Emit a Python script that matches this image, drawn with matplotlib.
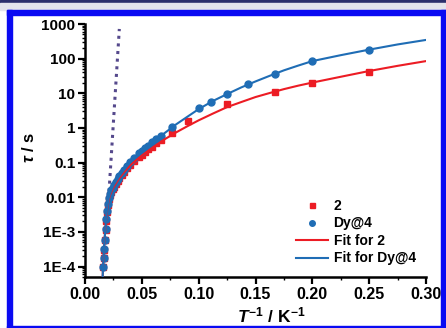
import matplotlib
matplotlib.use("Agg")
from matplotlib import pyplot as plt
from matplotlib.patches import Rectangle
from matplotlib.ticker import FixedLocator, FixedFormatter, MultipleLocator, LogLocator, NullFormatter

plt.rcParams['font.family'] = ['Liberation Sans', 'DejaVu Sans']
plt.rcParams['font.weight'] = 'bold'
plt.rcParams['mathtext.fontset'] = 'custom'
plt.rcParams['mathtext.it'] = 'Liberation Sans:italic:bold'
plt.rcParams['mathtext.rm'] = 'Liberation Sans:bold'
plt.rcParams['mathtext.bf'] = 'Liberation Sans:bold'

# data: inverse temperature (1/K) and relaxation time (s)
x_2 = [0.0159, 0.0164, 0.0169, 0.0175, 0.0182, 0.0189, 0.0196, 0.0204, 0.0213, 0.0222,
       0.0233, 0.0244, 0.0256, 0.0270, 0.0286, 0.0303, 0.0323, 0.0345, 0.0370, 0.0400,
       0.0435, 0.0476, 0.0500, 0.0526, 0.0556, 0.0588, 0.0625, 0.0667, 0.0769, 0.0909,
       0.125, 0.167, 0.2, 0.25]
tau_2 = [1.0e-4, 1.8e-4, 3.1e-4, 5.8e-4, 1.1e-3, 2.1e-3, 3.7e-3, 6.0e-3, 8.8e-3, 1.15e-2,
         1.45e-2, 1.7e-2, 2.0e-2, 2.4e-2, 2.9e-2, 3.5e-2, 4.3e-2, 5.4e-2, 6.8e-2, 8.6e-2,
         0.11, 0.15, 0.17, 0.20, 0.24, 0.29, 0.36, 0.46, 0.72, 1.6,
         4.8, 11, 20, 41]

x_dy = [0.0159, 0.0164, 0.0169, 0.0175, 0.0182, 0.0189, 0.0196, 0.0204, 0.0213, 0.0222,
        0.0233, 0.0244, 0.0256, 0.0270, 0.0286, 0.0303, 0.0323, 0.0345, 0.0370, 0.0400,
        0.0435, 0.0476, 0.0500, 0.0526, 0.0556, 0.0588, 0.0625, 0.0667, 0.0769, 0.1,
        0.111, 0.125, 0.143, 0.167, 0.2, 0.25]
tau_dy = [1.0e-4, 1.8e-4, 3.2e-4, 6.0e-4, 1.2e-3, 2.3e-3, 4.0e-3, 6.5e-3, 9.5e-3, 1.25e-2,
          1.6e-2, 1.9e-2, 2.2e-2, 2.7e-2, 3.3e-2, 4.0e-2, 5.0e-2, 6.3e-2, 8.0e-2, 0.105,
          0.14, 0.19, 0.22, 0.26, 0.31, 0.39, 0.48, 0.60, 1.07, 3.8,
          5.6, 9.6, 18.6, 36, 86, 178]

# fit curves
fit_x = [0.0154, 0.0159, 0.0165, 0.017, 0.0178, 0.0185, 0.0192, 0.02, 0.021, 0.022,
         0.0235, 0.025, 0.0275, 0.03, 0.035, 0.04, 0.045, 0.05, 0.06, 0.07,
         0.08, 0.09, 0.1, 0.1125, 0.125, 0.1375, 0.15, 0.1625, 0.175, 0.1875,
         0.2, 0.225, 0.25, 0.275, 0.3]
fit_2 = [4e-5, 1e-4, 2.4e-4, 4.7e-4, 1.05e-3, 2.0e-3, 3.5e-3, 5.8e-3, 8.7e-3, 0.0115,
         0.015, 0.019, 0.026, 0.035, 0.056, 0.085, 0.117, 0.16, 0.28, 0.47,
         0.74, 1.12, 1.66, 2.6, 4.0, 5.6, 7.8, 10.2, 13.2, 16.6,
         20.4, 30, 44, 62, 85]
fit_dy = [4e-5, 1e-4, 2.5e-4, 5e-4, 1.1e-3, 2.2e-3, 4e-3, 6.6e-3, 0.010, 0.013,
          0.017, 0.022, 0.030, 0.040, 0.066, 0.105, 0.15, 0.21, 0.40, 0.71,
          1.26, 2.1, 3.5, 6.0, 9.5, 14.8, 22, 32, 46, 63,
          85, 126, 182, 257, 347]

# Arrhenius extrapolation (dotted)
arr_x = [0.0203, 0.0302]
arr_tau = [0.0054, 720]

red = "#ec1c24"
blue = "#1f6db5"

fig = plt.figure(figsize=(4.46, 3.28), dpi=100)
ax = fig.add_axes([85/446, 1-277/328, 341/446, 253/328])

ax.plot(arr_x, arr_tau, linestyle=(0, (1, 1.5)), color="#55498c", linewidth=2.2)
ax.plot(x_2, tau_2, "s", color=red, markersize=4.5, label="2", zorder=3)
ax.plot(x_dy, tau_dy, "o", color=blue, markersize=5, label="Dy@4", zorder=3)
ax.plot(fit_x, fit_2, color=red, linewidth=1.5, label="Fit for 2", zorder=4)
ax.plot(fit_x, fit_dy, color=blue, linewidth=1.5, label="Fit for Dy@4", zorder=4)

ax.set_yscale("log")
ax.set_xlim(0, 0.30)
ax.set_ylim(5e-5, 1000)

yt = [1e-4, 1e-3, 1e-2, 1e-1, 1, 10, 100, 1000]
ytl = ["1E-4", "1E-3", "0.01", "0.1", "1", "10", "100", "1000"]
ax.yaxis.set_major_locator(FixedLocator(yt))
ax.yaxis.set_major_formatter(FixedFormatter(ytl))
ax.yaxis.set_minor_locator(LogLocator(base=10, subs=range(2, 10), numticks=20))
ax.yaxis.set_minor_formatter(NullFormatter())
ax.xaxis.set_major_locator(MultipleLocator(0.05))
ax.xaxis.set_minor_locator(MultipleLocator(0.025))
ax.xaxis.set_major_formatter(plt.FuncFormatter(lambda v, p: "%.2f" % v))

for s in ["top", "right"]:
    ax.spines[s].set_visible(False)
for s in ["left", "bottom"]:
    ax.spines[s].set_linewidth(1.8)
ax.tick_params(which="major", direction="out", length=5, width=1.6, labelsize=11, pad=2)
ax.tick_params(which="minor", direction="out", length=2.5, width=1)
ax.tick_params(axis="x", labelsize=11.5)

fig.text(29/446, 1-147/328, r"$\tau$ / s", rotation=90, ha="center", va="center",
         fontsize=12, fontweight="bold")
fig.text(271/446, 1-315/328, r"$T^{\mathrm{-1}}$ / K$^{\mathrm{-1}}$", ha="center", va="center",
         fontsize=12.5, fontweight="bold")

ax.legend(loc="upper left", bbox_to_anchor=(296/446, 1-199/328), bbox_transform=fig.transFigure,
          frameon=False, borderpad=0, borderaxespad=0, handlelength=2.3, handletextpad=0.4,
          labelspacing=0.25, markerscale=0.8, prop={"weight": "bold", "size": 10})

# page decoration: navy strip and blue frame
fig.patches.append(Rectangle((0, 1-3/328), 1, 3/328, transform=fig.transFigure, color="#2c2f6c", zorder=0))
fig.patches.append(Rectangle((0, 1-10/328), 1, 7/328, transform=fig.transFigure, color="#e4e4ec", zorder=0))
frame = "#0a0af2"
fig.patches.append(Rectangle((7/446, 0), 5/446, 1-10/328, transform=fig.transFigure, color=frame, zorder=0))
fig.patches.append(Rectangle((7/446, 1-15/328), 1, 5/328, transform=fig.transFigure, color=frame, zorder=0))
fig.patches.append(Rectangle((441/446, 0), 5/446, 1-10/328, transform=fig.transFigure, color=frame, zorder=0))
fig.patches.append(Rectangle((7/446, 0), 1, 2/328, transform=fig.transFigure, color=frame, zorder=0))

fig.savefig("out.png", dpi=100)
